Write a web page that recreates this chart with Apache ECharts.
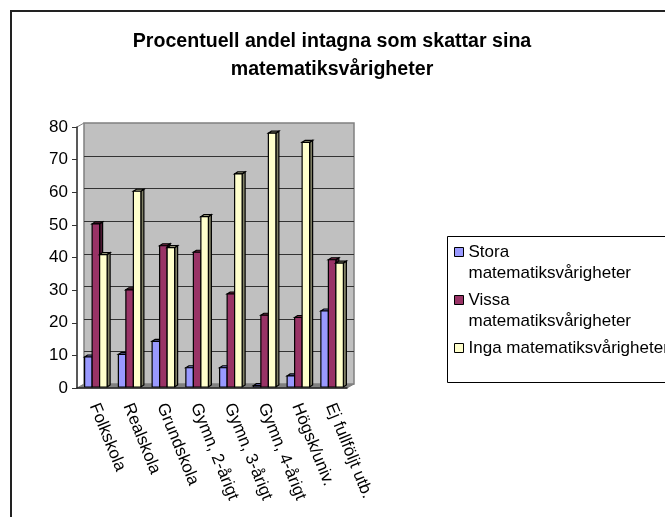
<!DOCTYPE html>
<html>
<head>
<meta charset="utf-8">
<style>
html, body { margin: 0; padding: 0; background: #fff; overflow: hidden; }
#chart { width: 665px; height: 517px; }
</style>
<script src="https://cdn.jsdelivr.net/npm/echarts@6/dist/echarts.min.js"></script>
</head>
<body>
<div id="chart"></div>
<script>
// kategorier och värden
const categories = ['Folkskola', 'Realskola', 'Grundskola', 'Gymn, 2-årigt', 'Gymn, 3-årigt', 'Gymn, 4-årigt', 'Högsk/univ.', 'Ej fullföljt utb.'];
const stora = [9.2, 10, 14, 5.9, 5.9, 0.4, 3.4, 23.3];
const vissa = [50, 29.8, 43.3, 41.3, 28.5, 22, 21.3, 39];
const inga = [40.6, 60, 42.7, 52.2, 65.3, 77.8, 75, 38];
const yTicks = [0, 10, 20, 30, 40, 50, 60, 70, 80];

const seriesNames = ['Stora matematiksvårigheter', 'Vissa matematiksvårigheter', 'Inga matematiksvårigheter'];
// tomma rader gör att symbolen hamnar vid första textraden
const legendText = ['\nStora\nmatematiksvårigheter', '\nVissa\nmatematiksvårigheter', '\nInga matematiksvårigheter\n'];
const colors = ['#9999FF', '#993366', '#FFFFCC'];
const topColors = ['#7373BF', '#732644', '#BFBF99'];
const sideColors = ['#4D4D80', '#4D1A33', '#808066'];

const FONT = '"Liberation Sans", Arial, sans-serif';
const WALL_DX = 7, WALL_DY = -4;   // väggens förskjutning
const DEPTH_X = 3, DEPTH_Y = -2;   // stapelns djup
const BAR_W = 7.5;

const poly = (points, fill, stroke, width) => ({
    type: 'polygon',
    shape: { points },
    style: { fill, stroke: stroke || '#000', lineWidth: width || 1 }
});

// vägg, golv och stödlinjer
const renderWall = (params, api) => {
    const band = api.size([1, 0])[0];
    const x0 = api.coord([0, 0])[0] - band / 2;
    const x1 = x0 + band * categories.length;
    const y0 = api.coord([0, 0])[1];
    const yTop = api.coord([0, yTicks[yTicks.length - 1]])[1];
    const children = [
        poly([[x0, y0], [x0 + WALL_DX, y0 + WALL_DY], [x1 + WALL_DX, y0 + WALL_DY], [x1, y0]], '#808080', '#808080'),
        poly([[x0 + WALL_DX, yTop + WALL_DY], [x1 + WALL_DX, yTop + WALL_DY], [x1 + WALL_DX, y0 + WALL_DY], [x0 + WALL_DX, y0 + WALL_DY]], '#C0C0C0', '#808080', 1.5),
        { type: 'line', shape: { x1: x0, y1: yTop, x2: x0 + WALL_DX, y2: yTop + WALL_DY }, style: { stroke: '#808080', lineWidth: 1 } }
    ];
    yTicks.slice(1, -1).forEach((t) => {
        const y = Math.round(api.coord([0, t])[1] + WALL_DY) + 0.5;
        children.push({ type: 'line', shape: { x1: x0 + WALL_DX, y1: y, x2: x1 + WALL_DX, y2: y }, style: { stroke: '#333', lineWidth: 1 } });
    });
    return { type: 'group', children };
};

// en stapel med framsida, ovansida och sida
const renderBar = (index) => (params, api) => {
    const c = api.coord([api.value(0), api.value(1)]);
    const base = api.coord([api.value(0), 0])[1] - 1;
    const left = c[0] - BAR_W * 1.5 + BAR_W * index + 2;
    const right = left + BAR_W;
    const top = c[1] - 1;
    return {
        type: 'group',
        children: [
            poly([[right, top], [right + DEPTH_X, top + DEPTH_Y], [right + DEPTH_X, base + DEPTH_Y], [right, base]], sideColors[index], '#000', 1.2),
            poly([[left, top], [left + DEPTH_X, top + DEPTH_Y], [right + DEPTH_X, top + DEPTH_Y], [right, top]], topColors[index], '#000', 1.2),
            poly([[left, top], [right, top], [right, base], [left, base]], colors[index], '#000', 1.2)
        ]
    };
};

const barSeries = (values, index) => ({
    name: seriesNames[index],
    type: 'custom',
    z: 3,
    renderItem: renderBar(index),
    encode: { x: 0, y: 1 },
    data: values.map((v, i) => [i, v])
});

const legendItem = (index) => ({
    name: seriesNames[index],
    icon: 'rect',
    itemStyle: { color: colors[index], borderColor: '#000', borderWidth: 1 }
});

const myChart = echarts.init(document.getElementById('chart'), null, { renderer: 'canvas' });
const option = {
    animation: false,
    backgroundColor: '#fff',
    title: {
        text: 'Procentuell andel intagna som skattar sina\nmatematiksvårigheter',
        left: 327,
        top: 23,
        textAlign: 'center',
        textStyle: { fontFamily: FONT, fontSize: 19.6, fontWeight: 'bold', color: '#000', lineHeight: 28 }
    },
    graphic: [
        { type: 'rect', z: -1, shape: { x: 11, y: 11, width: 1000, height: 1000 }, style: { fill: '#fff', stroke: '#222', lineWidth: 2 } },
        { type: 'rect', z: -1, shape: { x: 447.5, y: 236.5, width: 400, height: 146 }, style: { fill: '#fff', stroke: '#000', lineWidth: 1 } }
    ],
    legend: {
        orient: 'vertical',
        left: 454,
        top: 220.5,
        padding: 0,
        itemGap: -15,
        itemWidth: 9,
        itemHeight: 9,
        textStyle: { fontFamily: FONT, fontSize: 17, color: '#000', lineHeight: 21 },
        formatter: (name) => legendText[seriesNames.indexOf(name)],
        data: [legendItem(0), legendItem(1), legendItem(2)]
    },
    grid: { left: 77, top: 127, width: 270, height: 261 },
    xAxis: {
        type: 'category',
        data: categories,
        z: 5,
        axisLine: { lineStyle: { color: '#222', width: 1.5 } },
        axisTick: { length: 5, lineStyle: { color: '#333' } },
        axisLabel: { interval: 0, rotate: -68, margin: 16, fontFamily: FONT, fontSize: 17, color: '#000' }
    },
    yAxis: {
        type: 'value',
        min: 0,
        max: 80,
        interval: 10,
        z: 5,
        splitLine: { show: false },
        axisLine: { show: true, lineStyle: { color: '#222', width: 1.5 } },
        axisTick: { show: true, length: 5, lineStyle: { color: '#333' } },
        axisLabel: { margin: 9, fontFamily: FONT, fontSize: 17, color: '#000' }
    },
    series: [
        { type: 'custom', z: 1, silent: true, renderItem: renderWall, encode: { x: 0, y: 1 }, data: [[0, 0]] },
        barSeries(stora, 0),
        barSeries(vissa, 1),
        barSeries(inga, 2)
    ]
};
myChart.setOption(option);
</script>
</body>
</html>
